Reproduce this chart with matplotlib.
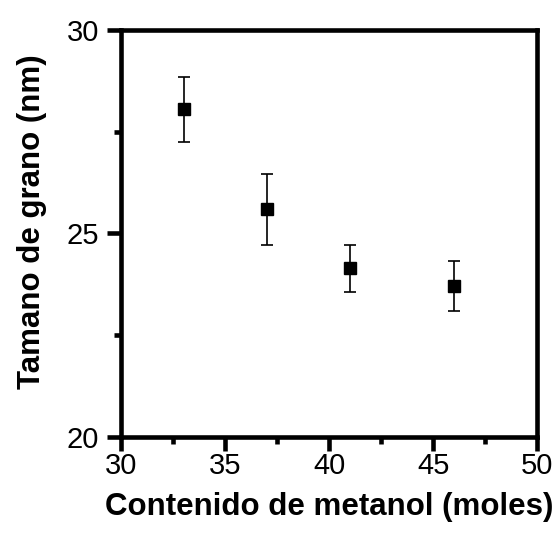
import numpy as np
import matplotlib.pyplot as plt
from matplotlib.ticker import MultipleLocator

plt.rcParams['font.family'] = ['Liberation Sans', 'DejaVu Sans']

# grain size vs methanol content
metanol = [33, 37, 41, 46]
tamano = [28.05, 25.59, 24.14, 23.70]
error = [0.80, 0.87, 0.58, 0.62]

fig = plt.figure(figsize=(5.56, 5.33), dpi=100)
ax = fig.add_axes([0.2185, 0.181, 0.7473, 0.7627])

ax.errorbar(metanol, tamano, yerr=error, fmt='s', color='black',
            markersize=9, elinewidth=1.2, capsize=4.5, capthick=1.2)

ax.set_xlim(30, 50)
ax.set_ylim(20, 30)
ax.xaxis.set_major_locator(MultipleLocator(5))
ax.xaxis.set_minor_locator(MultipleLocator(2.5))
ax.yaxis.set_major_locator(MultipleLocator(5))
ax.yaxis.set_minor_locator(MultipleLocator(2.5))

for s in ax.spines.values():
    s.set_linewidth(3.3)
ax.tick_params(which='major', direction='out', length=10, width=3.3, labelsize=21)
ax.tick_params(axis='x', which='major', pad=1)
ax.tick_params(axis='y', which='major', pad=6)
ax.tick_params(which='minor', direction='out', length=5, width=3.3)

ax.set_xlabel('Contenido de metanol (moles)', fontsize=22.5, fontweight='bold', labelpad=9)
ax.set_ylabel('Tamano de grano (nm)', fontsize=22.5, fontweight='bold')
ax.yaxis.set_label_coords(-0.18, 0.528)

fig.savefig('out.png', dpi=100)
